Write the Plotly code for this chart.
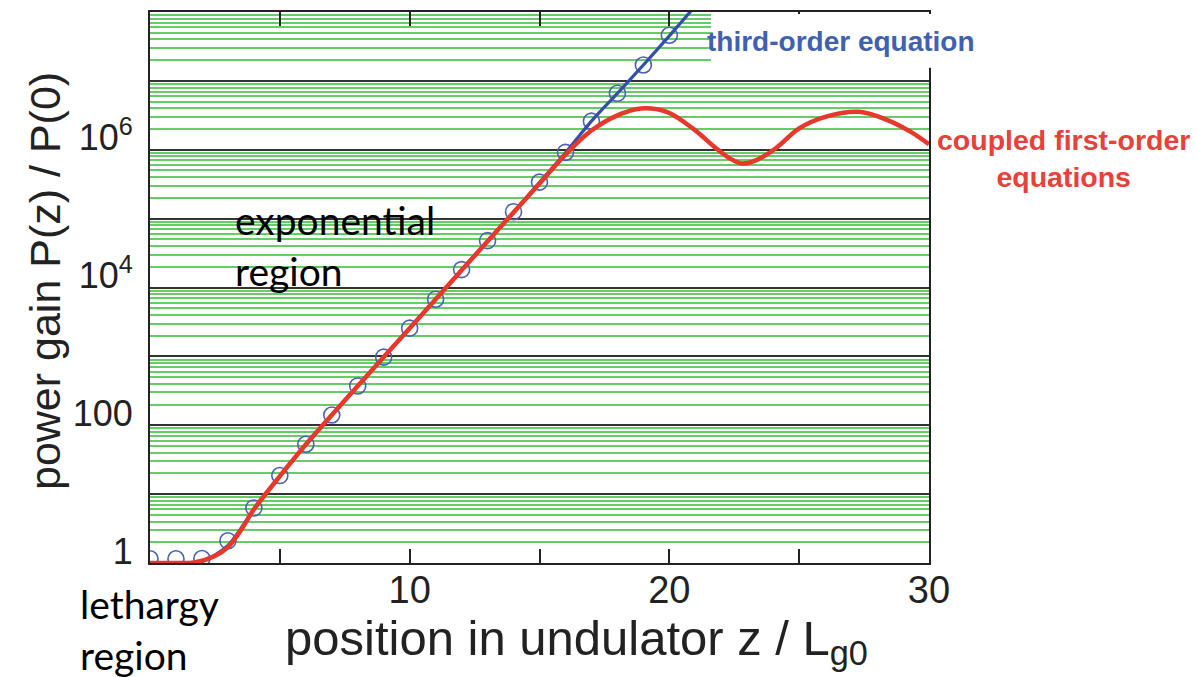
import plotly.graph_objects as go

# Gain curves of a high-gain FEL versus position in the undulator
z_markers = list(range(21))
gain_markers = [1.15, 1.15, 1.16, 2.1, 6.3, 18.6, 53, 141, 372, 975, 2570, 6760,
                18200, 47900, 126000, 339000, 915000, 2.6e6, 6.6e6, 1.7e7, 4.6e7]

z_third = list(range(22))
gain_third = [1.0, 1.0, 1.05, 1.8, 6.0, 18.0, 52, 140, 370, 970, 2550, 6700,
              18000, 47500, 125000, 335000, 905000, 2.6e6, 6.6e6, 1.7e7, 4.5e7, 1.22e8]

z_coupled = [0, 1, 1.7, 2.5, 3, 3.5, 4, 5, 6, 7, 8, 9, 10, 11, 12, 13, 14, 15, 16,
             17, 18, 18.9, 19.9, 20.9, 21.8, 22.3, 22.8, 23.4, 24.1, 25, 26, 27.3,
             28.4, 29.3, 30]
gain_coupled = [1.0, 1.0, 1.02, 1.26, 1.7, 3.0, 6.0, 18.2, 52.5, 141, 372, 977, 2570,
                6760, 17800, 46800, 123000, 324000, 851000, 1.9e6, 3.16e6, 3.98e6,
                3.55e6, 2.04e6, 1.05e6, 7.6e5, 6.3e5, 7.2e5, 1.05e6, 2.04e6, 3.0e6,
                3.55e6, 2.7e6, 1.82e6, 1.2e6]

x_tickvals = [0, 5, 10, 15, 20, 25, 30]
x_ticktext = ["", "", "10", "", "20", "", "30"]
y_tickvals = [1, 10, 100, 1e3, 1e4, 1e5, 1e6, 1e7, 1e8]
y_ticktext = ["1", "", "100", "", "10<sup>4</sup>", "", "10<sup>6</sup>", "", ""]

W, H = 1196, 677
L, R, T, B = 150, 267, 10, 114
PW, PH = W - L - R, H - T - B


def px(x):
    return (x - L) / PW


def py(y):
    return (H - B - y) / PH


BLUE = "#3350a8"
RED = "#e8372b"
GREEN = "#66cc66"
INK = "#222222"

fig = go.Figure()
fig.add_trace(go.Scatter(
    x=z_markers, y=gain_markers, mode="markers",
    marker=dict(symbol="circle-open", size=16, color="#4a62b6", line=dict(width=1.6)),
    showlegend=False))
fig.add_trace(go.Scatter(
    x=z_third, y=gain_third, mode="lines",
    line=dict(color=BLUE, width=3.2, shape="spline", smoothing=0.8),
    showlegend=False))
fig.add_trace(go.Scatter(
    x=z_coupled, y=gain_coupled, mode="lines",
    line=dict(color=RED, width=4.5, shape="spline", smoothing=1.0),
    showlegend=False))

minor_vals = [m * 10 ** d for d in range(8) for m in range(2, 10)]

fig.update_xaxes(
    range=[0, 30], tickmode="array", tickvals=x_tickvals, ticktext=x_ticktext,
    ticks="inside", ticklen=14, tickwidth=2, tickcolor=INK,
    showline=True, linewidth=2, linecolor=INK, mirror="ticks",
    showgrid=False, zeroline=False,
    tickfont=dict(family="Liberation Sans", size=38, color=INK),
    ticklabelstandoff=-8,
)
fig.update_yaxes(
    type="log", range=[0, 8], tickmode="array", tickvals=y_tickvals, ticktext=y_ticktext,
    ticks="", showline=True, linewidth=2, linecolor=INK, mirror=True,
    showgrid=True, gridcolor="#333333", gridwidth=2, zeroline=False,
    minor=dict(tickmode="array", tickvals=minor_vals, showgrid=True,
               gridcolor=GREEN, gridwidth=1.7, ticks=""),
    tickfont=dict(family="Liberation Sans", size=36, color=INK),
    ticklabelstandoff=8, ticklabelshift=-12,
)

# blank box behind the third-order label
fig.add_shape(type="rect", xref="paper", yref="paper",
              x0=px(711), x1=px(940), y0=py(66), y1=py(12),
              fillcolor="white", line=dict(width=0), layer="above")

annotations = [
    dict(text="third-order equation", x=px(705), y=py(40), xanchor="left", yanchor="middle",
         font=dict(family="Liberation Sans", size=28, color="#4060b0", weight="bold")),
    dict(text="coupled first-order<br>equations", x=px(1063), y=py(157), xanchor="center",
         yanchor="middle", align="center",
         font=dict(family="Liberation Sans", size=28.5, color="#e8403a", weight="bold")),
    dict(text="exponential<br>region", x=px(233), y=py(244), xanchor="left", yanchor="middle",
         align="left", font=dict(family="Lato", size=39, color="black")),
    dict(text="lethargy<br>region", x=px(78), y=py(630), xanchor="left", yanchor="middle",
         align="left", font=dict(family="Lato", size=39, color="black")),
    dict(text="position in undulator z / L<sub>g0</sub>", x=px(283), y=py(642),
         xanchor="left", yanchor="middle",
         font=dict(family="Liberation Sans", size=49, color=INK)),
    dict(text="power gain P(z) / P(0)", x=px(45), y=py(280), textangle=-90,
         xanchor="center", yanchor="middle",
         font=dict(family="Liberation Sans", size=43, color=INK)),
]
for a in annotations:
    fig.add_annotation(xref="paper", yref="paper", showarrow=False, **a)

fig.update_layout(
    width=W, height=H, margin=dict(l=L, r=R, t=T, b=B),
    paper_bgcolor="white", plot_bgcolor="white",
)

fig.write_html("out.html")
